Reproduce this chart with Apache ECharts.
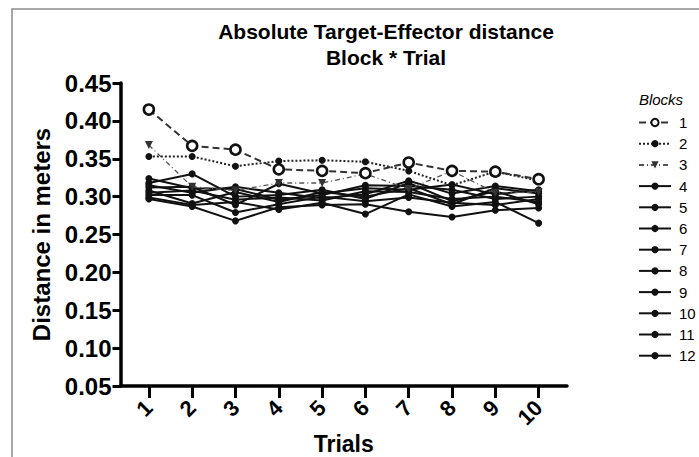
<!DOCTYPE html>
<html>
<head>
<meta charset="utf-8">
<script src="https://cdn.jsdelivr.net/npm/echarts@6/dist/echarts.min.js"></script>
<style>
html,body{margin:0;padding:0;background:#fff;}
#chart{width:699px;height:457px;}
</style>
</head>
<body>
<div id="chart"></div>
<script>
// ---- data ----
var trials = [1, 2, 3, 4, 5, 6, 7, 8, 9, 10];
var blockNames = ['1','2','3','4','5','6','7','8','9','10','11','12'];
var yTicks = [0.05, 0.10, 0.15, 0.20, 0.25, 0.30, 0.35, 0.40, 0.45];
var titleText = 'Absolute Target-Effector distance\nBlock * Trial';
var yName = 'Distance in meters';
var xName = 'Trials';
var legendTitle = 'Blocks';

var block1  = [0.415, 0.367, 0.362, 0.336, 0.334, 0.331, 0.345, 0.334, 0.333, 0.323];
var block2  = [0.353, 0.353, 0.340, 0.347, 0.348, 0.346, 0.334, 0.315, 0.333, 0.321];
var block3  = [0.368, 0.313, 0.308, 0.318, 0.318, 0.330, 0.310, 0.334, 0.305, 0.306];
var block4  = [0.318, 0.330, 0.300, 0.302, 0.309, 0.297, 0.318, 0.294, 0.307, 0.290];
var block5  = [0.324, 0.311, 0.310, 0.296, 0.302, 0.315, 0.314, 0.309, 0.297, 0.300];
var block6  = [0.315, 0.305, 0.313, 0.305, 0.298, 0.303, 0.321, 0.304, 0.314, 0.307];
var block7  = [0.312, 0.313, 0.289, 0.317, 0.304, 0.311, 0.309, 0.316, 0.303, 0.309];
var block8  = [0.308, 0.291, 0.306, 0.293, 0.306, 0.300, 0.311, 0.290, 0.311, 0.304];
var block9  = [0.305, 0.308, 0.296, 0.299, 0.295, 0.307, 0.306, 0.297, 0.300, 0.293];
var block10 = [0.302, 0.302, 0.279, 0.290, 0.300, 0.294, 0.299, 0.292, 0.289, 0.297];
var block11 = [0.299, 0.289, 0.293, 0.283, 0.292, 0.277, 0.303, 0.287, 0.293, 0.265];
var block12 = [0.297, 0.287, 0.268, 0.286, 0.289, 0.290, 0.280, 0.273, 0.282, 0.285];

var blocks = [block1, block2, block3, block4, block5, block6, block7, block8, block9, block10, block11, block12];

// ---- build ----
function pairs(vals) {
  return vals.map(function (v, i) { return [trials[i], v]; });
}
var FONT = '"Liberation Sans", Arial, Helvetica, sans-serif';

var series = blocks.map(function (vals, k) {
  var s = {
    name: blockNames[k],
    type: 'line',
    data: pairs(vals),
    symbol: 'circle',
    symbolSize: 7,
    lineStyle: { color: '#111', width: 2, type: 'solid' },
    itemStyle: { color: '#111', borderWidth: 0 },
    emphasis: { disabled: true },
    z: 2
  };
  if (k === 0) {
    s.symbol = 'circle';
    s.symbolSize = 10;
    s.itemStyle = { color: '#fff', borderColor: '#111', borderWidth: 2.6 };
    s.lineStyle = { color: '#333', width: 2, type: [7, 4] };
    s.z = 5;
  } else if (k === 1) {
    s.lineStyle = { color: '#222', width: 2, type: [2, 2] };
    s.z = 4;
  } else if (k === 2) {
    s.symbol = 'triangle';
    s.symbolRotate = 180;
    s.symbolSize = 8;
    s.itemStyle = { color: '#333' };
    s.lineStyle = { color: '#555', width: 1.3, type: [5, 3, 1, 3] };
    s.z = 3;
  }
  return s;
});

var chart = echarts.init(document.getElementById('chart'), null, { renderer: 'svg' });
chart.setOption({
  animation: false,
  backgroundColor: '#fff',
  graphic: [
    { type: 'rect', shape: { x: 12, y: 9, width: 720, height: 480 },
      style: { fill: 'none', stroke: '#8a8a8a', lineWidth: 1.5 }, silent: true },
    { type: 'text', x: 386, y: 18,
      style: { text: titleText, font: 'bold 21px ' + FONT, fill: '#000', align: 'center', lineHeight: 26 } },
    { type: 'text', x: 661, y: 92,
      style: { text: legendTitle, font: 'italic 15px ' + FONT, fill: '#000', align: 'center' } }
  ],
  grid: { left: 120.5, right: 132, top: 83, bottom: 71, containLabel: false, outerBoundsMode: 'none' },
  legend: {
    orient: 'vertical',
    left: 633,
    top: 110,
    itemWidth: 32,
    itemHeight: 9,
    itemGap: 6.2,
    data: blockNames,
    textStyle: { fontFamily: FONT, fontSize: 15, color: '#000', padding: [0, 0, 0, 3] },
    selectedMode: false
  },
  xAxis: {
    type: 'value',
    min: 0.345,
    max: 10.655,
    name: xName,
    nameLocation: 'middle',
    nameGap: 46,
    nameMoveOverlap: false,
    nameTextStyle: { fontFamily: FONT, fontSize: 23, fontWeight: 'bold', color: '#000', lineHeight: 24 },
    axisLine: { show: true, lineStyle: { color: '#000', width: 3.5 } },
    axisTick: { show: true, customValues: trials, length: 12, lineStyle: { color: '#000', width: 3 } },
    axisLabel: { customValues: trials, rotate: 45, margin: 18, fontFamily: FONT, fontSize: 22, fontWeight: 'bold', color: '#000' },
    splitLine: { show: false }
  },
  yAxis: {
    type: 'value',
    min: 0.05,
    max: 0.45,
    interval: 0.05,
    name: yName,
    nameLocation: 'middle',
    nameGap: 67,
    nameMoveOverlap: false,
    nameTextStyle: { fontFamily: FONT, fontSize: 24, fontWeight: 'bold', color: '#000' },
    axisLine: { show: true, lineStyle: { color: '#000', width: 3.5 } },
    axisTick: { show: true, length: 8, lineStyle: { color: '#000', width: 3 } },
    axisLabel: { margin: 9, fontFamily: FONT, fontSize: 24, fontWeight: 'bold', color: '#000',
      customValues: yTicks,
      formatter: function (v) { return v.toFixed(2); } },
    splitLine: { show: false }
  },
  series: series
});
</script>
</body>
</html>
